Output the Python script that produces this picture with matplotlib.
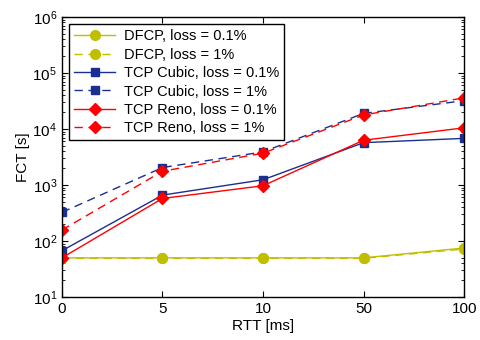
import numpy as np
import matplotlib
matplotlib.use("Agg")
import matplotlib.pyplot as plt

plt.rcParams['font.family'] = ['Liberation Sans', 'DejaVu Sans']
plt.rcParams['mathtext.fontset'] = 'custom'
plt.rcParams['mathtext.rm'] = 'Liberation Sans'

# --- data ---
rtt_labels = ['0', '5', '10', '50', '100']
dfcp_01 = [50, 50, 50, 50, 75]
dfcp_1 = [49, 49, 49, 49, 72]
cubic_01 = [67, 660, 1240, 5700, 6800]
cubic_1 = [325, 2050, 3900, 19000, 32000]
reno_01 = [50, 575, 970, 6300, 10500]
reno_1 = [157, 1760, 3700, 17800, 36000]

yellow = '#bfbf00'
blue = '#1a2f8f'
red = '#ff0000'

x = np.arange(len(rtt_labels))

fig = plt.figure(figsize=(4.8, 3.4), dpi=100)
ax = fig.add_axes([0.129, 0.1265, 0.838, 0.8235])

ax.plot(x, dfcp_01, '-', color=yellow, marker='o', ms=7, lw=1, label='DFCP, loss = 0.1%')
ax.plot(x, dfcp_1, '--', color=yellow, marker='o', ms=7, lw=1, dashes=(6, 4), label='DFCP, loss = 1%')
ax.plot(x, cubic_01, '-', color=blue, marker='s', ms=5.5, lw=1, label='TCP Cubic, loss = 0.1%')
ax.plot(x, cubic_1, '--', color=blue, marker='s', ms=5.5, lw=1, dashes=(6, 4), label='TCP Cubic, loss = 1%')
ax.plot(x, reno_01, '-', color=red, marker='D', ms=6, lw=1, label='TCP Reno, loss = 0.1%')
ax.plot(x, reno_1, '--', color=red, marker='D', ms=6, lw=1, dashes=(6, 4), label='TCP Reno, loss = 1%')

ax.set_yscale('log')
ax.set_ylim(10, 1e6)
ax.set_xlim(0, len(rtt_labels) - 1)
ax.set_xticks(x)
ax.set_xticklabels(rtt_labels)
ax.set_xlabel('RTT [ms]', fontsize=11, labelpad=2)
ax.set_ylabel('FCT [s]', fontsize=11, labelpad=2)
ax.tick_params(which='both', direction='in', top=True, right=True, labelsize=11)
ax.tick_params(which='major', length=4)
ax.tick_params(which='minor', length=2)
for s in ax.spines.values():
    s.set_linewidth(1)

leg = ax.legend(loc='upper left', fontsize=10.5, frameon=True, fancybox=False,
                edgecolor='black', framealpha=1, handlelength=2.8,
                labelspacing=0.3, borderaxespad=0.5, borderpad=0.35,
                handletextpad=0.6)
leg.get_frame().set_linewidth(1)

fig.savefig('out.png', dpi=100)
